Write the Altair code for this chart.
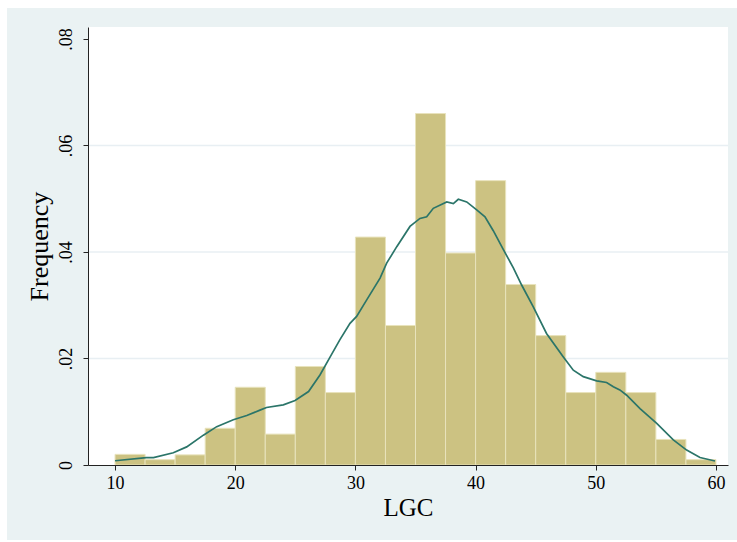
import altair as alt
import pandas as pd

# Histogram bins (LGC), width 2.5 from 10 to 60, density heights
bin_start = [10, 12.5, 15, 17.5, 20, 22.5, 25, 27.5, 30, 32.5,
             35, 37.5, 40, 42.5, 45, 47.5, 50, 52.5, 55, 57.5]
bin_end = [12.5, 15, 17.5, 20, 22.5, 25, 27.5, 30, 32.5, 35,
           37.5, 40, 42.5, 45, 47.5, 50, 52.5, 55, 57.5, 60]
density = [0.0020, 0.0010, 0.0019, 0.0069, 0.0146, 0.0058, 0.0185, 0.0136, 0.0428, 0.0262,
           0.0660, 0.0398, 0.0534, 0.0339, 0.0243, 0.0136, 0.0174, 0.0136, 0.0048, 0.0010]

# Kernel density estimate curve
kx = [10.0, 12.6, 13.2, 14.85, 15.96, 17.35, 18.46, 19.84, 20.96, 22.06,
      22.6, 24.0, 24.98, 26.1, 27.05, 27.9, 28.7, 29.55, 30.1, 30.94,
      32.05, 32.6, 33.44, 34.54, 35.37, 35.93, 36.48, 37.6, 38.15, 38.56,
      39.26, 40.09, 40.78, 41.47, 42.3, 43.14, 43.83, 44.8, 45.9, 47.3,
      48.13, 48.96, 50.07, 50.9, 51.46, 52.0, 52.57, 53.68, 55.07, 56.45,
      57.56, 58.67, 59.92]
ky = [0.0008, 0.0014, 0.0014, 0.0023, 0.0034, 0.0056, 0.0072, 0.0085, 0.0093, 0.0103,
      0.0108, 0.0113, 0.0121, 0.0138, 0.0169, 0.0203, 0.0235, 0.0266, 0.0279, 0.0310,
      0.0351, 0.0379, 0.0410, 0.0448, 0.0463, 0.0466, 0.0482, 0.0494, 0.0491, 0.0499,
      0.0494, 0.0479, 0.0466, 0.0440, 0.0405, 0.0370, 0.0338, 0.0297, 0.0247, 0.0203,
      0.0178, 0.0166, 0.0158, 0.0155, 0.0147, 0.0141, 0.0131, 0.0106, 0.0078, 0.0047,
      0.0028, 0.0014, 0.00075]

x_ticks = [10, 20, 30, 40, 50, 60]
y_ticks = [0, 0.02, 0.04, 0.06, 0.08]
grid_vals = [0.02, 0.04, 0.06]

W, H = 640, 438
SERIF = "Liberation Serif"

xscale = alt.Scale(domain=[7.75, 61.0], nice=False, zero=False)
yscale = alt.Scale(domain=[0, 0.08225], nice=False, zero=True)
xaxis = alt.Axis(values=x_ticks, format="d", title="LGC", zindex=2)
yaxis = alt.Axis(values=y_ticks, title="Frequency", zindex=2,
                 labelExpr="datum.value == 0 ? '0' : substring(format(datum.value, '.2f'), 1)")

bars_df = pd.DataFrame({"start": bin_start, "end": bin_end, "density": density})
kde_df = pd.DataFrame({"x": kx, "y": ky})
grid_df = pd.DataFrame({"g": grid_vals})
one = pd.DataFrame({"a": [0]})

panel = alt.Chart(one).mark_rect(color="#EAF2F3").encode(
    x=alt.value(-81), x2=alt.value(649), y=alt.value(-19), y2=alt.value(513)
)
plotbg = alt.Chart(one).mark_rect(color="white").encode(
    x=alt.value(0), x2=alt.value(W), y=alt.value(0), y2=alt.value(H)
)
grid = alt.Chart(grid_df).mark_rule(color="#E8EFF3", strokeWidth=1.5).encode(
    y=alt.Y("g:Q", scale=yscale, axis=yaxis),
    x=alt.value(0), x2=alt.value(W),
)

bars = alt.Chart(bars_df).mark_rect(
    color="#CCC282", stroke="#E8E3BC", strokeWidth=1
).encode(
    x=alt.X("start:Q", scale=xscale, axis=xaxis),
    x2="end:Q",
    y=alt.Y("density:Q", scale=yscale, axis=yaxis),
    y2=alt.datum(0),
)

line = alt.Chart(kde_df).mark_line(color="#2B7569", strokeWidth=1.7).encode(
    x=alt.X("x:Q", scale=xscale, axis=xaxis),
    y=alt.Y("y:Q", scale=yscale, axis=yaxis),
)

chart = alt.layer(panel, plotbg, grid, bars, line).properties(
    width=W, height=H,
    autosize=alt.AutoSizeParams(type="none"),
    padding={"left": 88, "top": 27, "right": 9, "bottom": 77},
    background="white",
).configure_view(stroke="transparent").configure_axis(
    grid=False,
    domainColor="#222222", domainWidth=1,
    tickColor="#222222", tickWidth=1, tickSize=5,
    labelFont=SERIF, labelFontSize=18, labelColor="black",
    titleFont=SERIF, titleFontSize=25, titleFontWeight="normal", titleColor="black",
).configure_axisX(
    labelPadding=4, titlePadding=3,
).configure_axisY(
    labelAngle=270, labelAlign="center", labelBaseline="bottom", labelPadding=8,
    titlePadding=5, titleFontSize=26,
)

chart.save("out.html", embed_options={"renderer": "svg", "actions": False})
